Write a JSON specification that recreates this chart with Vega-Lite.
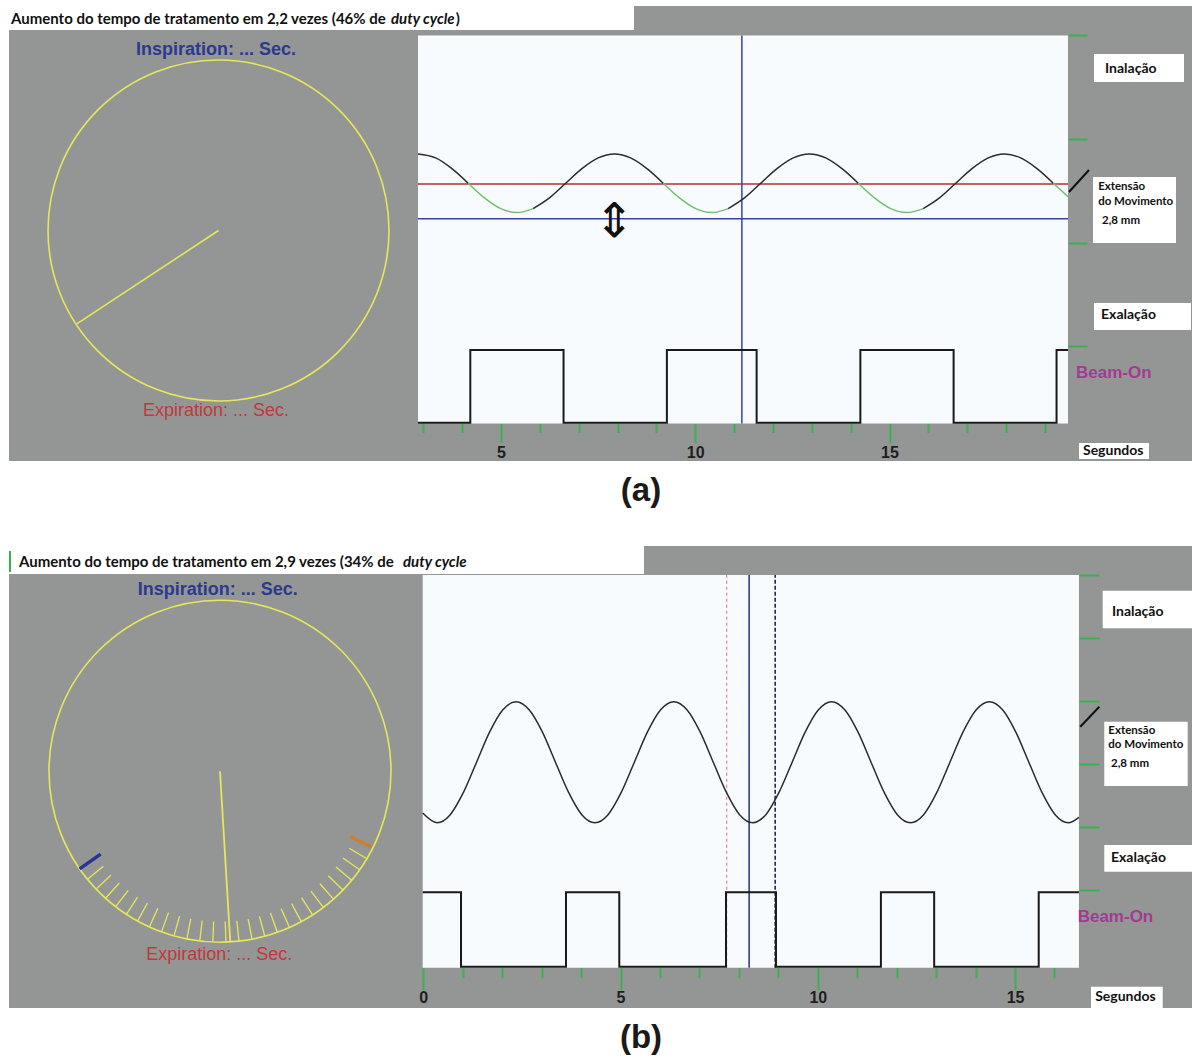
{
"$schema": "https://vega.github.io/schema/vega-lite/v6.json",
"background": "white",
"padding": {"left": 8, "top": 6, "right": 0, "bottom": 0},
"bounds": "flush",
"spacing": 85,
"config": {"view": {"fill": "#949695", "stroke": null}},
"datasets": {
"a_area": [{"t":2.864,"t2":19.594,"y":0,"y2":100}],
"a_boxes": [
 {"t":-7.664,"t2":8.423,"y":101.42,"y2":107.6},
 {"t":20.264,"t2":22.581,"y":88.02,"y2":95.23},
 {"t":20.238,"t2":22.375,"y":46.52,"y2":63.53},
 {"t":20.264,"t2":22.761,"y":24.10,"y2":31.06},
 {"t":19.878,"t2":21.680,"y":-9.15,"y2":-5.03}],
"a_red": [{"t":2.864,"t2":19.594,"y":61.73}],
"a_blueh": [{"t":2.864,"t2":19.594,"y":52.78}],
"a_bluev": [{"t":11.20,"y":0,"y2":100}],
"a_sine": [
 {"t":2.864,"y":69.45,"seg":1,"kind":"escuro"},{"t":3.318,"y":68.45,"seg":1,"kind":"escuro"},{"t":3.737,"y":65.69,"seg":1,"kind":"escuro"},{"t":4.155,"y":61.92,"seg":1,"kind":"escuro"},
 {"t":4.155,"y":61.92,"seg":2,"kind":"verde"},{"t":4.573,"y":58.15,"seg":2,"kind":"verde"},{"t":4.992,"y":55.39,"seg":2,"kind":"verde"},{"t":5.41,"y":54.38,"seg":2,"kind":"verde"},{"t":5.828,"y":55.39,"seg":2,"kind":"verde"},
 {"t":5.828,"y":55.39,"seg":3,"kind":"escuro"},{"t":6.247,"y":58.15,"seg":3,"kind":"escuro"},{"t":6.665,"y":61.92,"seg":3,"kind":"escuro"},{"t":7.083,"y":65.69,"seg":3,"kind":"escuro"},{"t":7.502,"y":68.45,"seg":3,"kind":"escuro"},{"t":7.92,"y":69.46,"seg":3,"kind":"escuro"},{"t":8.338,"y":68.45,"seg":3,"kind":"escuro"},{"t":8.757,"y":65.69,"seg":3,"kind":"escuro"},{"t":9.175,"y":61.92,"seg":3,"kind":"escuro"},
 {"t":9.175,"y":61.92,"seg":4,"kind":"verde"},{"t":9.593,"y":58.15,"seg":4,"kind":"verde"},{"t":10.012,"y":55.39,"seg":4,"kind":"verde"},{"t":10.43,"y":54.38,"seg":4,"kind":"verde"},{"t":10.848,"y":55.39,"seg":4,"kind":"verde"},
 {"t":10.848,"y":55.39,"seg":5,"kind":"escuro"},{"t":11.267,"y":58.15,"seg":5,"kind":"escuro"},{"t":11.685,"y":61.92,"seg":5,"kind":"escuro"},{"t":12.103,"y":65.69,"seg":5,"kind":"escuro"},{"t":12.522,"y":68.45,"seg":5,"kind":"escuro"},{"t":12.94,"y":69.46,"seg":5,"kind":"escuro"},{"t":13.358,"y":68.45,"seg":5,"kind":"escuro"},{"t":13.777,"y":65.69,"seg":5,"kind":"escuro"},{"t":14.195,"y":61.92,"seg":5,"kind":"escuro"},
 {"t":14.195,"y":61.92,"seg":6,"kind":"verde"},{"t":14.613,"y":58.15,"seg":6,"kind":"verde"},{"t":15.032,"y":55.39,"seg":6,"kind":"verde"},{"t":15.45,"y":54.38,"seg":6,"kind":"verde"},{"t":15.868,"y":55.39,"seg":6,"kind":"verde"},
 {"t":15.868,"y":55.39,"seg":7,"kind":"escuro"},{"t":16.287,"y":58.15,"seg":7,"kind":"escuro"},{"t":16.705,"y":61.92,"seg":7,"kind":"escuro"},{"t":17.123,"y":65.69,"seg":7,"kind":"escuro"},{"t":17.542,"y":68.45,"seg":7,"kind":"escuro"},{"t":17.96,"y":69.46,"seg":7,"kind":"escuro"},{"t":18.378,"y":68.45,"seg":7,"kind":"escuro"},{"t":18.797,"y":65.69,"seg":7,"kind":"escuro"},{"t":19.215,"y":61.92,"seg":7,"kind":"escuro"},
 {"t":19.215,"y":61.92,"seg":8,"kind":"verde"},{"t":19.594,"y":58.47,"seg":8,"kind":"verde"}],
"a_beam": [{"t":2.864,"y":0.2},{"t":4.21,"y":18.94},{"t":6.61,"y":0.2},{"t":9.27,"y":18.94},{"t":11.58,"y":0.2},{"t":14.25,"y":18.94},{"t":16.65,"y":0.2},{"t":19.30,"y":18.94},{"t":19.594,"y":18.94}],
"a_diag": [{"t":19.620,"y":59.66,"t2":20.135,"y2":65.34}],
"a_title1": [{"t":-7.613,"y":104.25,"txt":"Aumento do tempo de tratamento em 2,2 vezes (46% de"},{"t":3.835,"y":104.25,"txt":")"}],
"a_title2": [{"t":2.169,"y":104.25,"txt":"duty cycle"}],
"a_lab14": [{"t":20.547,"y":91.37,"txt":"Inalação"},{"t":20.445,"y":27.96,"txt":"Exalação"},{"t":19.98,"y":-7.09,"txt":"Segundos"}],
"a_lab11": [{"t":20.37,"y":60.95,"txt":"Extensão"},{"t":20.37,"y":57.09,"txt":"do Movimento"},{"t":20.47,"y":52.19,"txt":"2,8 mm"}],
"a_beamlab": [{"t":19.80,"y":13.0,"txt":"Beam-On"}],
"a_arrow": [{"t":7.91,"y":51.6,"txt":"⇕"}],
"a_circle": [{"gx":0,"gy":0}],
"a_needle": [{"gx":0,"gy":0,"gx2":-0.831,"gy2":-0.548}],
"a_insp": [{"gx":-0.015,"gy":1.0587,"txt":"Inspiration: ... Sec."}],
"a_exp": [{"gx":-0.015,"gy":-1.0587,"txt":"Expiration: ... Sec."}],
"b_area": [{"t":-0.015,"t2":16.62,"y":0,"y2":100}],
"b_boxes": [
 {"t":-10.502,"t2":5.594,"y":100.25,"y2":107.39},
 {"t":17.222,"t2":19.511,"y":86.43,"y2":96.0},
 {"t":17.262,"t2":19.376,"y":46.27,"y2":62.64},
 {"t":17.262,"t2":19.511,"y":24.45,"y2":31.25},
 {"t":16.925,"t2":18.743,"y":-10.26,"y2":-4.84}],
"b_green": [{"t":-10.477,"y":100.76,"y2":106.11}],
"b_vred": [{"t":7.69,"y":0,"y2":100}],
"b_vblue": [{"t":8.26,"y":0,"y2":100}],
"b_vdark": [{"t":8.92,"y":0,"y2":100}],
"b_sine": [
 {"t":-0.015,"y":39.38},{"t":0.35,"y":36.92},{"t":0.683,"y":38.98},{"t":1.017,"y":44.63},{"t":1.35,"y":52.33},{"t":1.683,"y":60.04},{"t":2.017,"y":65.68},{"t":2.35,"y":67.74},{"t":2.683,"y":65.68},{"t":3.017,"y":60.04},{"t":3.35,"y":52.33},{"t":3.683,"y":44.63},{"t":4.017,"y":38.98},
 {"t":4.35,"y":36.92},{"t":4.683,"y":38.98},{"t":5.017,"y":44.63},{"t":5.35,"y":52.33},{"t":5.683,"y":60.04},{"t":6.017,"y":65.68},{"t":6.35,"y":67.74},{"t":6.683,"y":65.68},{"t":7.017,"y":60.04},{"t":7.35,"y":52.33},{"t":7.683,"y":44.63},{"t":8.017,"y":38.98},
 {"t":8.35,"y":36.92},{"t":8.683,"y":38.98},{"t":9.017,"y":44.63},{"t":9.35,"y":52.33},{"t":9.683,"y":60.04},{"t":10.017,"y":65.68},{"t":10.35,"y":67.74},{"t":10.683,"y":65.68},{"t":11.017,"y":60.04},{"t":11.35,"y":52.33},{"t":11.683,"y":44.63},{"t":12.017,"y":38.98},
 {"t":12.35,"y":36.92},{"t":12.683,"y":38.98},{"t":13.017,"y":44.63},{"t":13.35,"y":52.33},{"t":13.683,"y":60.04},{"t":14.017,"y":65.68},{"t":14.35,"y":67.74},{"t":14.683,"y":65.68},{"t":15.017,"y":60.04},{"t":15.35,"y":52.33},{"t":15.683,"y":44.63},{"t":16.017,"y":38.98},
 {"t":16.35,"y":36.92},{"t":16.62,"y":38.29}],
"b_beam": [{"t":-0.015,"y":19.2},{"t":0.956,"y":0.25},{"t":3.617,"y":19.2},{"t":4.968,"y":0.25},{"t":7.673,"y":19.2},{"t":8.94,"y":0.25},{"t":11.60,"y":19.2},{"t":12.95,"y":0.25},{"t":15.60,"y":19.2},{"t":16.62,"y":19.2}],
"b_diag": [{"t":16.654,"y":61.37,"t2":17.136,"y2":66.46}],
"b_title1": [{"t":-10.249,"y":103.31,"txt":"Aumento do tempo de tratamento em 2,9 vezes (34% de"}],
"b_title2": [{"t":-0.515,"y":103.31,"txt":"duty cycle"}],
"b_lab14": [{"t":17.457,"y":90.65,"txt":"Inalação"},{"t":17.432,"y":27.86,"txt":"Exalação"},{"t":17.03,"y":-7.38,"txt":"Segundos"}],
"b_lab11": [{"t":17.364,"y":60.35,"txt":"Extensão"},{"t":17.364,"y":56.71,"txt":"do Movimento"},{"t":17.432,"y":51.87,"txt":"2,8 mm"}],
"b_beamlab": [{"t":16.588,"y":12.99,"txt":"Beam-On"}],
"b_circle": [{"gx":0,"gy":0}],
"b_needle": [{"gx":0,"gy":0,"gx2":0.060,"gy2":-0.997}],
"b_ticks": [
{"gx":-0.7749,"gy":-0.6320,"gx2":-0.6819,"gy2":-0.5562},
{"gx":-0.7242,"gy":-0.6896,"gx2":-0.6373,"gy2":-0.6068},
{"gx":-0.6691,"gy":-0.7431,"gx2":-0.5888,"gy2":-0.6539},
{"gx":-0.6101,"gy":-0.7923,"gx2":-0.5369,"gy2":-0.6972},
{"gx":-0.5476,"gy":-0.8368,"gx2":-0.4819,"gy2":-0.7364},
{"gx":-0.4818,"gy":-0.8763,"gx2":-0.4240,"gy2":-0.7711},
{"gx":-0.4131,"gy":-0.9107,"gx2":-0.3635,"gy2":-0.8014},
{"gx":-0.3420,"gy":-0.9397,"gx2":-0.3010,"gy2":-0.8269},
{"gx":-0.2689,"gy":-0.9632,"gx2":-0.2366,"gy2":-0.8476},
{"gx":-0.1942,"gy":-0.9810,"gx2":-0.1709,"gy2":-0.8633},
{"gx":-0.1184,"gy":-0.9930,"gx2":-0.1042,"gy2":-0.8738},
{"gx":-0.0419,"gy":-0.9991,"gx2":-0.0369,"gy2":-0.8792},
{"gx":0.0349,"gy":-0.9994,"gx2":0.0307,"gy2":-0.8795},
{"gx":0.1115,"gy":-0.9938,"gx2":0.0981,"gy2":-0.8745},
{"gx":0.1874,"gy":-0.9823,"gx2":0.1649,"gy2":-0.8644},
{"gx":0.2622,"gy":-0.9650,"gx2":0.2307,"gy2":-0.8492},
{"gx":0.3355,"gy":-0.9421,"gx2":0.2952,"gy2":-0.8290},
{"gx":0.4067,"gy":-0.9135,"gx2":0.3579,"gy2":-0.8039},
{"gx":0.4756,"gy":-0.8796,"gx2":0.4185,"gy2":-0.7740},
{"gx":0.5417,"gy":-0.8406,"gx2":0.4767,"gy2":-0.7397},
{"gx":0.6046,"gy":-0.7965,"gx2":0.5320,"gy2":-0.7009},
{"gx":0.6639,"gy":-0.7478,"gx2":0.5842,"gy2":-0.6581},
{"gx":0.7193,"gy":-0.6947,"gx2":0.6330,"gy2":-0.6113},
{"gx":0.7705,"gy":-0.6374,"gx2":0.6780,"gy2":-0.5609},
{"gx":0.8171,"gy":-0.5764,"gx2":0.7190,"gy2":-0.5072},
{"gx":0.8590,"gy":-0.5120,"gx2":0.7559,"gy2":-0.4506}],
"b_bluemark": [{"gx":-0.821,"gy":-0.571,"gx2":-0.698,"gy2":-0.485}],
"b_orangemark": [{"gx":0.885,"gy":-0.443,"gx2":0.760,"gy2":-0.381}],
"b_insp": [{"gx":-0.013,"gy":1.0596,"txt":"Inspiration: ... Sec."}],
"b_exp": [{"gx":-0.004,"gy":-1.0749,"txt":"Expiration: ... Sec."}]
},
"vconcat": [
{
 "width": 1184, "height": 455,
 "title": {"text": "(a)", "orient": "bottom", "anchor": "middle", "dx": 40, "offset": 14, "fontSize": 33, "fontWeight": "bold", "font": "Liberation Sans", "color": "#1a1a1a"},
 "resolve": {"scale": {"x": "independent", "y": "independent"}},
 "layer": [
   {"data": {"name": "a_area"}, "mark": {"type": "rect", "color": "#f8fbfd"},
    "encoding": {
     "x": {"field": "t", "type": "quantitative", "scale": {"domain": [-7.664, 22.812], "nice": false, "zero": false},
       "axis": {"orient": "bottom", "offset": -37.5, "values": [3,4,5,6,7,8,9,10,11,12,13,14,15,16,17,18,19], "domain": false, "grid": false, "title": null, "tickColor": "#3cb050", "tickWidth": 2, "tickSize": {"condition": {"test": "datum.value % 5 === 0", "value": 19}, "value": 9}, "labelExpr": "datum.value % 5 === 0 ? datum.label : ''", "labelFont": "Liberation Sans", "labelFontSize": 16, "labelFontWeight": "bold", "labelColor": "#1e1e1e", "labelPadding": 2, "labelFlush": false, "zindex": 1}},
     "x2": {"field": "t2"},
     "y": {"field": "y", "type": "quantitative", "scale": {"domain": [-9.66, 107.6], "nice": false, "zero": false},
       "axis": {"orient": "right", "offset": -125, "values": [19.9, 46.6, 73.3, 100], "domain": false, "grid": false, "title": null, "labels": false, "tickColor": "#3cb050", "tickWidth": 2, "tickSize": 19, "zindex": 1}},
     "y2": {"field": "y2"}}},
   {"data": {"name": "a_boxes"}, "mark": {"type": "rect", "color": "#ffffff"},
    "encoding": {
     "x": {"field": "t", "type": "quantitative", "scale": {"domain": [-7.664, 22.812], "nice": false, "zero": false}, "axis": null},
     "x2": {"field": "t2"},
     "y": {"field": "y", "type": "quantitative", "scale": {"domain": [-9.66, 107.6], "nice": false, "zero": false}, "axis": null},
     "y2": {"field": "y2"}}},
   {"data": {"name": "a_red"}, "mark": {"type": "rule", "color": "#b3302f", "strokeWidth": 1.5},
    "encoding": {
     "x": {"field": "t", "type": "quantitative", "scale": {"domain": [-7.664, 22.812], "nice": false, "zero": false}, "axis": null},
     "x2": {"field": "t2"},
     "y": {"field": "y", "type": "quantitative", "scale": {"domain": [-9.66, 107.6], "nice": false, "zero": false}, "axis": null}}},
   {"data": {"name": "a_blueh"}, "mark": {"type": "rule", "color": "#35429a", "strokeWidth": 1.5},
    "encoding": {
     "x": {"field": "t", "type": "quantitative", "scale": {"domain": [-7.664, 22.812], "nice": false, "zero": false}, "axis": null},
     "x2": {"field": "t2"},
     "y": {"field": "y", "type": "quantitative", "scale": {"domain": [-9.66, 107.6], "nice": false, "zero": false}, "axis": null}}},
   {"data": {"name": "a_bluev"}, "mark": {"type": "rule", "color": "#3545a5", "strokeWidth": 1.5},
    "encoding": {
     "x": {"field": "t", "type": "quantitative", "scale": {"domain": [-7.664, 22.812], "nice": false, "zero": false}, "axis": null},
     "y": {"field": "y", "type": "quantitative", "scale": {"domain": [-9.66, 107.6], "nice": false, "zero": false}, "axis": null},
     "y2": {"field": "y2"}}},
   {"data": {"name": "a_sine"}, "mark": {"type": "line", "interpolate": "monotone", "strokeWidth": 1.5},
    "encoding": {
     "x": {"field": "t", "type": "quantitative", "scale": {"domain": [-7.664, 22.812], "nice": false, "zero": false}, "axis": null},
     "y": {"field": "y", "type": "quantitative", "scale": {"domain": [-9.66, 107.6], "nice": false, "zero": false}, "axis": null},
     "color": {"field": "kind", "type": "nominal", "scale": {"domain": ["escuro", "verde"], "range": ["#2b2b2b", "#72bf72"]}, "legend": null},
     "detail": {"field": "seg", "type": "nominal"}}},
   {"data": {"name": "a_beam"}, "mark": {"type": "line", "interpolate": "step-after", "color": "#1a1a1a", "strokeWidth": 2},
    "encoding": {
     "x": {"field": "t", "type": "quantitative", "scale": {"domain": [-7.664, 22.812], "nice": false, "zero": false}, "axis": null},
     "y": {"field": "y", "type": "quantitative", "scale": {"domain": [-9.66, 107.6], "nice": false, "zero": false}, "axis": null}}},
   {"data": {"name": "a_diag"}, "mark": {"type": "rule", "color": "#111111", "strokeWidth": 2},
    "encoding": {
     "x": {"field": "t", "type": "quantitative", "scale": {"domain": [-7.664, 22.812], "nice": false, "zero": false}, "axis": null},
     "x2": {"field": "t2"},
     "y": {"field": "y", "type": "quantitative", "scale": {"domain": [-9.66, 107.6], "nice": false, "zero": false}, "axis": null},
     "y2": {"field": "y2"}}},
   {"data": {"name": "a_title1"}, "mark": {"type": "text", "align": "left", "baseline": "middle", "font": "Lato", "fontSize": 15, "fontWeight": "bold", "color": "#111111"},
    "encoding": {
     "x": {"field": "t", "type": "quantitative", "scale": {"domain": [-7.664, 22.812], "nice": false, "zero": false}, "axis": null},
     "y": {"field": "y", "type": "quantitative", "scale": {"domain": [-9.66, 107.6], "nice": false, "zero": false}, "axis": null},
     "text": {"field": "txt"}}},
   {"data": {"name": "a_title2"}, "mark": {"type": "text", "align": "left", "baseline": "middle", "font": "Lato", "fontSize": 15, "fontWeight": "bold", "fontStyle": "italic", "color": "#111111"},
    "encoding": {
     "x": {"field": "t", "type": "quantitative", "scale": {"domain": [-7.664, 22.812], "nice": false, "zero": false}, "axis": null},
     "y": {"field": "y", "type": "quantitative", "scale": {"domain": [-9.66, 107.6], "nice": false, "zero": false}, "axis": null},
     "text": {"field": "txt"}}},
   {"data": {"name": "a_lab14"}, "mark": {"type": "text", "align": "left", "baseline": "middle", "font": "Lato", "fontSize": 14, "fontWeight": "bold", "color": "#111111"},
    "encoding": {
     "x": {"field": "t", "type": "quantitative", "scale": {"domain": [-7.664, 22.812], "nice": false, "zero": false}, "axis": null},
     "y": {"field": "y", "type": "quantitative", "scale": {"domain": [-9.66, 107.6], "nice": false, "zero": false}, "axis": null},
     "text": {"field": "txt"}}},
   {"data": {"name": "a_lab11"}, "mark": {"type": "text", "align": "left", "baseline": "middle", "font": "Lato", "fontSize": 11.5, "fontWeight": "bold", "color": "#111111"},
    "encoding": {
     "x": {"field": "t", "type": "quantitative", "scale": {"domain": [-7.664, 22.812], "nice": false, "zero": false}, "axis": null},
     "y": {"field": "y", "type": "quantitative", "scale": {"domain": [-9.66, 107.6], "nice": false, "zero": false}, "axis": null},
     "text": {"field": "txt"}}},
   {"data": {"name": "a_beamlab"}, "mark": {"type": "text", "align": "left", "baseline": "middle", "font": "Liberation Sans", "fontSize": 17, "fontWeight": "bold", "color": "#a33b93"},
    "encoding": {
     "x": {"field": "t", "type": "quantitative", "scale": {"domain": [-7.664, 22.812], "nice": false, "zero": false}, "axis": null},
     "y": {"field": "y", "type": "quantitative", "scale": {"domain": [-9.66, 107.6], "nice": false, "zero": false}, "axis": null},
     "text": {"field": "txt"}}},
   {"data": {"name": "a_arrow"}, "mark": {"type": "text", "align": "center", "baseline": "middle", "font": "DejaVu Sans", "fontSize": 48, "color": "#111111"},
    "encoding": {
     "x": {"field": "t", "type": "quantitative", "scale": {"domain": [-7.664, 22.812], "nice": false, "zero": false}, "axis": null},
     "y": {"field": "y", "type": "quantitative", "scale": {"domain": [-9.66, 107.6], "nice": false, "zero": false}, "axis": null},
     "text": {"field": "txt"}}},
   {"data": {"name": "a_circle"}, "mark": {"type": "point", "shape": "circle", "size": 116281, "filled": false, "color": "#e6e65a", "strokeWidth": 1.6, "opacity": 1},
    "encoding": {
     "x": {"field": "gx", "type": "quantitative", "scale": {"domain": [-1.2287, 5.7155], "nice": false, "zero": false}, "axis": null},
     "y": {"field": "gy", "type": "quantitative", "scale": {"domain": [-1.3519, 1.3167], "nice": false, "zero": false}, "axis": null}}},
   {"data": {"name": "a_needle"}, "mark": {"type": "rule", "color": "#e6e65a", "strokeWidth": 1.6},
    "encoding": {
     "x": {"field": "gx", "type": "quantitative", "scale": {"domain": [-1.2287, 5.7155], "nice": false, "zero": false}, "axis": null},
     "x2": {"field": "gx2"},
     "y": {"field": "gy", "type": "quantitative", "scale": {"domain": [-1.3519, 1.3167], "nice": false, "zero": false}, "axis": null},
     "y2": {"field": "gy2"}}},
   {"data": {"name": "a_insp"}, "mark": {"type": "text", "align": "center", "baseline": "middle", "font": "Liberation Sans", "fontSize": 18, "fontWeight": "bold", "color": "#2c3a8e"},
    "encoding": {
     "x": {"field": "gx", "type": "quantitative", "scale": {"domain": [-1.2287, 5.7155], "nice": false, "zero": false}, "axis": null},
     "y": {"field": "gy", "type": "quantitative", "scale": {"domain": [-1.3519, 1.3167], "nice": false, "zero": false}, "axis": null},
     "text": {"field": "txt"}}},
   {"data": {"name": "a_exp"}, "mark": {"type": "text", "align": "center", "baseline": "middle", "font": "Liberation Sans", "fontSize": 18, "color": "#c03a3a"},
    "encoding": {
     "x": {"field": "gx", "type": "quantitative", "scale": {"domain": [-1.2287, 5.7155], "nice": false, "zero": false}, "axis": null},
     "y": {"field": "gy", "type": "quantitative", "scale": {"domain": [-1.3519, 1.3167], "nice": false, "zero": false}, "axis": null},
     "text": {"field": "txt"}}}
 ]
},
{
 "width": 1184, "height": 462,
 "title": {"text": "(b)", "orient": "bottom", "anchor": "middle", "dx": 40, "offset": 14, "fontSize": 33, "fontWeight": "bold", "font": "Liberation Sans", "color": "#1a1a1a"},
 "resolve": {"scale": {"x": "independent", "y": "independent"}},
 "layer": [
   {"data": {"name": "b_area"}, "mark": {"type": "rect", "color": "#f8fbfd"},
    "encoding": {
     "x": {"field": "t", "type": "quantitative", "scale": {"domain": [-10.502, 19.511], "nice": false, "zero": false},
       "axis": {"orient": "bottom", "offset": -40.3, "values": [0,1,2,3,4,5,6,7,8,9,10,11,12,13,14,15,16], "domain": false, "grid": false, "title": null, "tickColor": "#3cb050", "tickWidth": 2, "tickSize": {"condition": {"test": "datum.value % 5 === 0", "value": 22}, "value": 10}, "labelExpr": "datum.value % 5 === 0 ? datum.label : ''", "labelFont": "Liberation Sans", "labelFontSize": 16, "labelFontWeight": "bold", "labelColor": "#1e1e1e", "labelPadding": 0, "labelFlush": false, "zindex": 1}},
     "x2": {"field": "t2"},
     "y": {"field": "y", "type": "quantitative", "scale": {"domain": [-10.26, 107.39], "nice": false, "zero": false},
       "axis": {"orient": "right", "offset": -114, "values": [19.8, 35.84, 51.88, 67.92, 83.96, 100], "domain": false, "grid": false, "title": null, "labels": false, "tickColor": "#3cb050", "tickWidth": 2, "tickSize": 20, "zindex": 1}},
     "y2": {"field": "y2"}}},
   {"data": {"name": "b_boxes"}, "mark": {"type": "rect", "color": "#ffffff"},
    "encoding": {
     "x": {"field": "t", "type": "quantitative", "scale": {"domain": [-10.502, 19.511], "nice": false, "zero": false}, "axis": null},
     "x2": {"field": "t2"},
     "y": {"field": "y", "type": "quantitative", "scale": {"domain": [-10.26, 107.39], "nice": false, "zero": false}, "axis": null},
     "y2": {"field": "y2"}}},
   {"data": {"name": "b_green"}, "mark": {"type": "rule", "color": "#3cb050", "strokeWidth": 2},
    "encoding": {
     "x": {"field": "t", "type": "quantitative", "scale": {"domain": [-10.502, 19.511], "nice": false, "zero": false}, "axis": null},
     "y": {"field": "y", "type": "quantitative", "scale": {"domain": [-10.26, 107.39], "nice": false, "zero": false}, "axis": null},
     "y2": {"field": "y2"}}},
   {"data": {"name": "b_vred"}, "mark": {"type": "rule", "color": "#e08a8a", "strokeWidth": 1.2, "strokeDash": [3, 3]},
    "encoding": {
     "x": {"field": "t", "type": "quantitative", "scale": {"domain": [-10.502, 19.511], "nice": false, "zero": false}, "axis": null},
     "y": {"field": "y", "type": "quantitative", "scale": {"domain": [-10.26, 107.39], "nice": false, "zero": false}, "axis": null},
     "y2": {"field": "y2"}}},
   {"data": {"name": "b_vblue"}, "mark": {"type": "rule", "color": "#2e3d8f", "strokeWidth": 1.6},
    "encoding": {
     "x": {"field": "t", "type": "quantitative", "scale": {"domain": [-10.502, 19.511], "nice": false, "zero": false}, "axis": null},
     "y": {"field": "y", "type": "quantitative", "scale": {"domain": [-10.26, 107.39], "nice": false, "zero": false}, "axis": null},
     "y2": {"field": "y2"}}},
   {"data": {"name": "b_vdark"}, "mark": {"type": "rule", "color": "#26264a", "strokeWidth": 1.6, "strokeDash": [4, 2]},
    "encoding": {
     "x": {"field": "t", "type": "quantitative", "scale": {"domain": [-10.502, 19.511], "nice": false, "zero": false}, "axis": null},
     "y": {"field": "y", "type": "quantitative", "scale": {"domain": [-10.26, 107.39], "nice": false, "zero": false}, "axis": null},
     "y2": {"field": "y2"}}},
   {"data": {"name": "b_sine"}, "mark": {"type": "line", "interpolate": "monotone", "strokeWidth": 1.5, "color": "#2b2b2b"},
    "encoding": {
     "x": {"field": "t", "type": "quantitative", "scale": {"domain": [-10.502, 19.511], "nice": false, "zero": false}, "axis": null},
     "y": {"field": "y", "type": "quantitative", "scale": {"domain": [-10.26, 107.39], "nice": false, "zero": false}, "axis": null}}},
   {"data": {"name": "b_beam"}, "mark": {"type": "line", "interpolate": "step-after", "color": "#1a1a1a", "strokeWidth": 2},
    "encoding": {
     "x": {"field": "t", "type": "quantitative", "scale": {"domain": [-10.502, 19.511], "nice": false, "zero": false}, "axis": null},
     "y": {"field": "y", "type": "quantitative", "scale": {"domain": [-10.26, 107.39], "nice": false, "zero": false}, "axis": null}}},
   {"data": {"name": "b_diag"}, "mark": {"type": "rule", "color": "#111111", "strokeWidth": 2},
    "encoding": {
     "x": {"field": "t", "type": "quantitative", "scale": {"domain": [-10.502, 19.511], "nice": false, "zero": false}, "axis": null},
     "x2": {"field": "t2"},
     "y": {"field": "y", "type": "quantitative", "scale": {"domain": [-10.26, 107.39], "nice": false, "zero": false}, "axis": null},
     "y2": {"field": "y2"}}},
   {"data": {"name": "b_title1"}, "mark": {"type": "text", "align": "left", "baseline": "middle", "font": "Lato", "fontSize": 15, "fontWeight": "bold", "color": "#111111"},
    "encoding": {
     "x": {"field": "t", "type": "quantitative", "scale": {"domain": [-10.502, 19.511], "nice": false, "zero": false}, "axis": null},
     "y": {"field": "y", "type": "quantitative", "scale": {"domain": [-10.26, 107.39], "nice": false, "zero": false}, "axis": null},
     "text": {"field": "txt"}}},
   {"data": {"name": "b_title2"}, "mark": {"type": "text", "align": "left", "baseline": "middle", "font": "Lato", "fontSize": 15, "fontWeight": "bold", "fontStyle": "italic", "color": "#111111"},
    "encoding": {
     "x": {"field": "t", "type": "quantitative", "scale": {"domain": [-10.502, 19.511], "nice": false, "zero": false}, "axis": null},
     "y": {"field": "y", "type": "quantitative", "scale": {"domain": [-10.26, 107.39], "nice": false, "zero": false}, "axis": null},
     "text": {"field": "txt"}}},
   {"data": {"name": "b_lab14"}, "mark": {"type": "text", "align": "left", "baseline": "middle", "font": "Lato", "fontSize": 14, "fontWeight": "bold", "color": "#111111"},
    "encoding": {
     "x": {"field": "t", "type": "quantitative", "scale": {"domain": [-10.502, 19.511], "nice": false, "zero": false}, "axis": null},
     "y": {"field": "y", "type": "quantitative", "scale": {"domain": [-10.26, 107.39], "nice": false, "zero": false}, "axis": null},
     "text": {"field": "txt"}}},
   {"data": {"name": "b_lab11"}, "mark": {"type": "text", "align": "left", "baseline": "middle", "font": "Lato", "fontSize": 11.5, "fontWeight": "bold", "color": "#111111"},
    "encoding": {
     "x": {"field": "t", "type": "quantitative", "scale": {"domain": [-10.502, 19.511], "nice": false, "zero": false}, "axis": null},
     "y": {"field": "y", "type": "quantitative", "scale": {"domain": [-10.26, 107.39], "nice": false, "zero": false}, "axis": null},
     "text": {"field": "txt"}}},
   {"data": {"name": "b_beamlab"}, "mark": {"type": "text", "align": "left", "baseline": "middle", "font": "Liberation Sans", "fontSize": 17, "fontWeight": "bold", "color": "#a33b93"},
    "encoding": {
     "x": {"field": "t", "type": "quantitative", "scale": {"domain": [-10.502, 19.511], "nice": false, "zero": false}, "axis": null},
     "y": {"field": "y", "type": "quantitative", "scale": {"domain": [-10.26, 107.39], "nice": false, "zero": false}, "axis": null},
     "text": {"field": "txt"}}},
   {"data": {"name": "b_circle"}, "mark": {"type": "point", "shape": "circle", "size": 116964, "filled": false, "color": "#e6e65a", "strokeWidth": 1.6, "opacity": 1},
    "encoding": {
     "x": {"field": "gx", "type": "quantitative", "scale": {"domain": [-1.2339, 5.6901], "nice": false, "zero": false}, "axis": null},
     "y": {"field": "gy", "type": "quantitative", "scale": {"domain": [-1.3848, 1.3170], "nice": false, "zero": false}, "axis": null}}},
   {"data": {"name": "b_ticks"}, "mark": {"type": "rule", "color": "#e6e65a", "strokeWidth": 1.3},
    "encoding": {
     "x": {"field": "gx", "type": "quantitative", "scale": {"domain": [-1.2339, 5.6901], "nice": false, "zero": false}, "axis": null},
     "x2": {"field": "gx2"},
     "y": {"field": "gy", "type": "quantitative", "scale": {"domain": [-1.3848, 1.3170], "nice": false, "zero": false}, "axis": null},
     "y2": {"field": "gy2"}}},
   {"data": {"name": "b_needle"}, "mark": {"type": "rule", "color": "#e6e65a", "strokeWidth": 1.8},
    "encoding": {
     "x": {"field": "gx", "type": "quantitative", "scale": {"domain": [-1.2339, 5.6901], "nice": false, "zero": false}, "axis": null},
     "x2": {"field": "gx2"},
     "y": {"field": "gy", "type": "quantitative", "scale": {"domain": [-1.3848, 1.3170], "nice": false, "zero": false}, "axis": null},
     "y2": {"field": "gy2"}}},
   {"data": {"name": "b_bluemark"}, "mark": {"type": "rule", "color": "#2a3590", "strokeWidth": 3.5},
    "encoding": {
     "x": {"field": "gx", "type": "quantitative", "scale": {"domain": [-1.2339, 5.6901], "nice": false, "zero": false}, "axis": null},
     "x2": {"field": "gx2"},
     "y": {"field": "gy", "type": "quantitative", "scale": {"domain": [-1.3848, 1.3170], "nice": false, "zero": false}, "axis": null},
     "y2": {"field": "gy2"}}},
   {"data": {"name": "b_orangemark"}, "mark": {"type": "rule", "color": "#c98034", "strokeWidth": 3.5},
    "encoding": {
     "x": {"field": "gx", "type": "quantitative", "scale": {"domain": [-1.2339, 5.6901], "nice": false, "zero": false}, "axis": null},
     "x2": {"field": "gx2"},
     "y": {"field": "gy", "type": "quantitative", "scale": {"domain": [-1.3848, 1.3170], "nice": false, "zero": false}, "axis": null},
     "y2": {"field": "gy2"}}},
   {"data": {"name": "b_insp"}, "mark": {"type": "text", "align": "center", "baseline": "middle", "font": "Liberation Sans", "fontSize": 18, "fontWeight": "bold", "color": "#2c3a8e"},
    "encoding": {
     "x": {"field": "gx", "type": "quantitative", "scale": {"domain": [-1.2339, 5.6901], "nice": false, "zero": false}, "axis": null},
     "y": {"field": "gy", "type": "quantitative", "scale": {"domain": [-1.3848, 1.3170], "nice": false, "zero": false}, "axis": null},
     "text": {"field": "txt"}}},
   {"data": {"name": "b_exp"}, "mark": {"type": "text", "align": "center", "baseline": "middle", "font": "Liberation Sans", "fontSize": 18, "color": "#c03a3a"},
    "encoding": {
     "x": {"field": "gx", "type": "quantitative", "scale": {"domain": [-1.2339, 5.6901], "nice": false, "zero": false}, "axis": null},
     "y": {"field": "gy", "type": "quantitative", "scale": {"domain": [-1.3848, 1.3170], "nice": false, "zero": false}, "axis": null},
     "text": {"field": "txt"}}}
 ]
}
]
}
